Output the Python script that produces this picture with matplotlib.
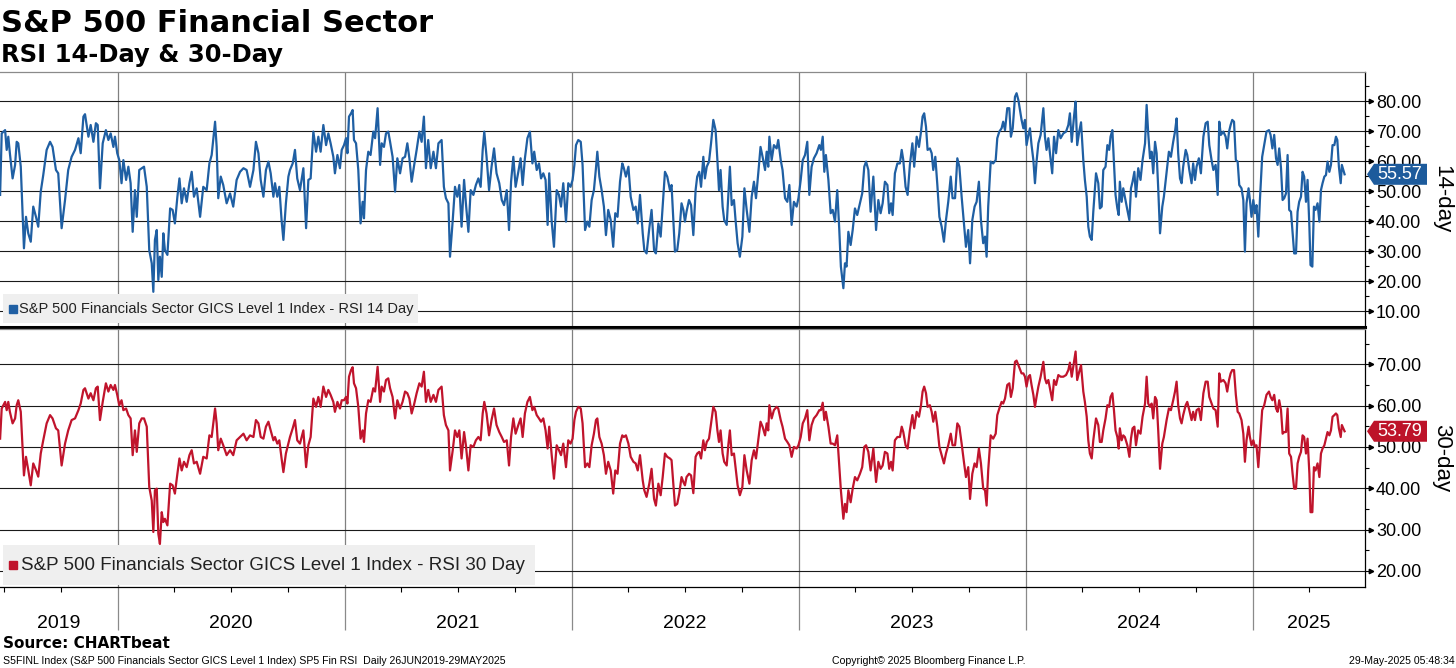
import numpy as np
import matplotlib
matplotlib.use("Agg")
import matplotlib.pyplot as plt
import matplotlib.transforms as mtransforms
from matplotlib.patches import Polygon, Rectangle
from matplotlib.ticker import FormatStrFormatter

# ---------------- data (dates as decimal years) ----------------
dates = [
    # Jun 2019 - Dec 2020
    2019.482, 2019.489, 2019.504, 2019.511, 2019.518, 2019.525, 2019.537, 2019.548, 2019.555, 2019.562,
    2019.573, 2019.587, 2019.596, 2019.606, 2019.617, 2019.628, 2019.640, 2019.650, 2019.661, 2019.672,
    2019.687, 2019.702, 2019.713, 2019.728, 2019.738, 2019.753, 2019.768, 2019.782, 2019.797, 2019.812,
    2019.827, 2019.837, 2019.849, 2019.856, 2019.871, 2019.881, 2019.893, 2019.904, 2019.912, 2019.922,
    2019.934, 2019.948, 2019.959, 2019.969, 2019.981, 2019.988, 2019.998, 2020.007, 2020.017, 2020.025,
    2020.037, 2020.047, 2020.057, 2020.066, 2020.076, 2020.084, 2020.095, 2020.106, 2020.116, 2020.128,
    2020.139, 2020.150, 2020.157, 2020.164, 2020.172, 2020.179, 2020.186, 2020.194, 2020.201, 2020.208,
    2020.219, 2020.231, 2020.242, 2020.252, 2020.263, 2020.272, 2020.282, 2020.292, 2020.304, 2020.316,
    2020.326, 2020.336, 2020.348, 2020.363, 2020.377, 2020.392, 2020.404, 2020.414, 2020.429, 2020.436,
    2020.443, 2020.454, 2020.465, 2020.480, 2020.495, 2020.509, 2020.524, 2020.539, 2020.554, 2020.568,
    2020.583, 2020.598, 2020.609, 2020.620, 2020.630, 2020.642, 2020.653, 2020.664, 2020.674, 2020.686,
    2020.693, 2020.703, 2020.712, 2020.722, 2020.730, 2020.741, 2020.752, 2020.759, 2020.771, 2020.781,
    2020.791, 2020.803, 2020.818, 2020.830, 2020.840, 2020.850, 2020.862, 2020.874, 2020.884, 2020.894,
    2020.906, 2020.918, 2020.928, 2020.938, 2020.950, 2020.957, 2020.968,
    # Dec 2020 - Jun 2022
    2020.979, 2020.987, 2020.997, 2021.006, 2021.012, 2021.019, 2021.028, 2021.035, 2021.041, 2021.050,
    2021.060, 2021.070, 2021.079, 2021.085, 2021.094, 2021.104, 2021.114, 2021.126, 2021.134, 2021.145,
    2021.156, 2021.163, 2021.173, 2021.182, 2021.192, 2021.200, 2021.211, 2021.222, 2021.232, 2021.244,
    2021.255, 2021.266, 2021.276, 2021.285, 2021.295, 2021.305, 2021.317, 2021.329, 2021.339, 2021.349,
    2021.358, 2021.368, 2021.379, 2021.391, 2021.402, 2021.413, 2021.427, 2021.437, 2021.446, 2021.457,
    2021.464, 2021.476, 2021.486, 2021.496, 2021.505, 2021.515, 2021.526, 2021.534, 2021.545, 2021.555,
    2021.567, 2021.578, 2021.589, 2021.599, 2021.608, 2021.615, 2021.625, 2021.636, 2021.647, 2021.658,
    2021.669, 2021.681, 2021.692, 2021.702, 2021.714, 2021.724, 2021.733, 2021.743, 2021.753, 2021.765,
    2021.775, 2021.784, 2021.794, 2021.805, 2021.816, 2021.827, 2021.835, 2021.846, 2021.856, 2021.865,
    2021.875, 2021.885, 2021.894, 2021.901, 2021.912, 2021.922, 2021.934, 2021.944, 2021.953, 2021.963,
    2021.975, 2021.985, 2021.995, 2022.004, 2022.012, 2022.019, 2022.029, 2022.040, 2022.048, 2022.059,
    2022.069, 2022.078, 2022.088, 2022.098, 2022.107, 2022.113, 2022.122, 2022.132, 2022.142, 2022.151,
    2022.161, 2022.172, 2022.183, 2022.192, 2022.202, 2022.213, 2022.223, 2022.230, 2022.239, 2022.250,
    2022.260, 2022.272, 2022.282, 2022.291, 2022.301, 2022.313, 2022.320, 2022.330, 2022.342, 2022.352,
    2022.363, 2022.371, 2022.382, 2022.392, 2022.401, 2022.411, 2022.421, 2022.433, 2022.440, 2022.448,
    2022.455, 2022.465, 2022.474,
    # Jun 2022 - Dec 2023
    2022.484, 2022.492, 2022.499, 2022.506, 2022.517, 2022.526, 2022.536, 2022.546, 2022.553, 2022.562,
    2022.570, 2022.580, 2022.587, 2022.595, 2022.605, 2022.614, 2022.624, 2022.634, 2022.642, 2022.649,
    2022.656, 2022.665, 2022.672, 2022.683, 2022.690, 2022.697, 2022.705, 2022.715, 2022.722, 2022.731,
    2022.741, 2022.752, 2022.761, 2022.771, 2022.783, 2022.793, 2022.803, 2022.812, 2022.822, 2022.832,
    2022.841, 2022.852, 2022.859, 2022.866, 2022.871, 2022.881, 2022.891, 2022.903, 2022.910, 2022.921,
    2022.929, 2022.940, 2022.950, 2022.959, 2022.969, 2022.979, 2022.991, 2022.999, 2023.009, 2023.018,
    2023.028, 2023.038, 2023.047, 2023.057, 2023.067, 2023.079, 2023.091, 2023.098, 2023.106, 2023.113,
    2023.120, 2023.131, 2023.141, 2023.150, 2023.160, 2023.170, 2023.179, 2023.186, 2023.197, 2023.204,
    2023.211, 2023.219, 2023.229, 2023.238, 2023.248, 2023.258, 2023.270, 2023.280, 2023.289, 2023.297,
    2023.307, 2023.317, 2023.329, 2023.341, 2023.351, 2023.361, 2023.370, 2023.380, 2023.391, 2023.399,
    2023.407, 2023.414, 2023.424, 2023.435, 2023.446, 2023.454, 2023.461, 2023.471, 2023.480, 2023.490,
    2023.501, 2023.509, 2023.520, 2023.530, 2023.539, 2023.546, 2023.553, 2023.561, 2023.568, 2023.578,
    2023.586, 2023.593, 2023.602, 2023.611, 2023.620, 2023.630, 2023.640, 2023.649, 2023.659, 2023.670,
    2023.678, 2023.689, 2023.699, 2023.708, 2023.718, 2023.728, 2023.737, 2023.747, 2023.755, 2023.765,
    2023.775, 2023.784, 2023.794, 2023.803, 2023.813, 2023.821, 2023.828, 2023.835, 2023.846, 2023.857,
    2023.868, 2023.875, 2023.884, 2023.894, 2023.901, 2023.909, 2023.919, 2023.928, 2023.935, 2023.943,
    2023.953, 2023.960, 2023.968,
    # Dec 2023 - May 2025
    2023.982, 2023.990, 2023.997, 2024.004, 2024.012, 2024.019, 2024.026, 2024.034, 2024.041, 2024.048,
    2024.056, 2024.066, 2024.078, 2024.085, 2024.092, 2024.100, 2024.107, 2024.117, 2024.125, 2024.134,
    2024.144, 2024.154, 2024.166, 2024.178, 2024.188, 2024.195, 2024.203, 2024.213, 2024.220, 2024.227,
    2024.236, 2024.244, 2024.254, 2024.261, 2024.269, 2024.276, 2024.283, 2024.291, 2024.298, 2024.310,
    2024.320, 2024.327, 2024.335, 2024.342, 2024.352, 2024.360, 2024.368, 2024.374, 2024.382, 2024.389,
    2024.396, 2024.404, 2024.410, 2024.415, 2024.423, 2024.430, 2024.437, 2024.448, 2024.457, 2024.464,
    2024.471, 2024.479, 2024.486, 2024.496, 2024.506, 2024.515, 2024.526, 2024.533, 2024.540, 2024.548,
    2024.555, 2024.562, 2024.570, 2024.577, 2024.584, 2024.592, 2024.602, 2024.609, 2024.621, 2024.631,
    2024.640, 2024.650, 2024.658, 2024.665, 2024.672, 2024.680, 2024.687, 2024.694, 2024.705, 2024.712,
    2024.721, 2024.731, 2024.738, 2024.746, 2024.753, 2024.763, 2024.772, 2024.783, 2024.793, 2024.802,
    2024.809, 2024.819, 2024.827, 2024.837, 2024.846, 2024.853, 2024.860, 2024.871, 2024.881, 2024.888,
    2024.896, 2024.903, 2024.910, 2024.918, 2024.926, 2024.934, 2024.941, 2024.951, 2024.959, 2024.966,
    2024.973, 2024.982, 2024.988, 2024.995, 2025.003, 2025.010, 2025.017, 2025.025, 2025.032, 2025.042,
    2025.051, 2025.061, 2025.072, 2025.079, 2025.087, 2025.095, 2025.103, 2025.110, 2025.117, 2025.125,
    2025.132, 2025.139, 2025.147, 2025.154, 2025.161, 2025.169, 2025.176, 2025.183, 2025.191, 2025.198,
    2025.205, 2025.213, 2025.220, 2025.227, 2025.235, 2025.242, 2025.250, 2025.255, 2025.263, 2025.270,
    2025.277, 2025.286, 2025.294, 2025.301, 2025.308, 2025.316, 2025.323, 2025.330, 2025.338, 2025.345,
    2025.352, 2025.360, 2025.367, 2025.373, 2025.380, 2025.388, 2025.393, 2025.405,
]

rsi14 = [
    48.7, 69.2, 70.3, 63.7, 68.1, 62.6, 54.2, 58.7, 66.4, 65.9,
    58.1, 30.9, 41.4, 35.9, 33.1, 44.8, 41.4, 38.1, 49.8, 55.3,
    63.7, 66.4, 64.7, 57.0, 55.9, 37.6, 47.0, 57.0, 61.4, 63.7,
    67.6, 62.6, 74.8, 75.6, 68.1, 72.0, 66.4, 72.6, 72.0, 50.9,
    65.9, 70.3, 67.0, 69.2, 64.7, 68.1, 62.6, 60.3, 52.6, 60.3,
    53.7, 58.1, 52.6, 36.4, 50.3, 41.4, 57.0, 57.6, 58.1, 51.4,
    30.3, 25.9, 16.4, 33.7, 37.0, 20.3, 28.1, 21.4, 35.9, 30.3,
    28.7, 44.2, 43.7, 39.2, 48.1, 54.2, 45.9, 50.9, 46.4, 52.6,
    56.4, 48.1, 50.9, 41.4, 51.4, 50.3, 59.2, 62.0, 73.1, 64.7,
    47.6, 54.8, 52.0, 45.9, 49.2, 44.8, 53.7, 56.4, 57.6, 57.0,
    51.4, 57.0, 66.4, 62.6, 53.7, 48.1, 57.0, 59.8, 55.9, 48.1,
    52.6, 48.1, 51.4, 40.3, 33.7, 45.9, 54.8, 57.0, 59.2, 63.7,
    54.2, 50.3, 57.6, 37.6, 53.7, 54.2, 69.8, 63.1, 68.1, 63.1,
    72.0, 65.3, 69.2, 65.9, 61.4, 55.9, 62.0,
    57.6, 63.7, 65.3, 67.6, 62.6, 74.8, 75.9, 77.0, 67.0, 65.9,
    57.0, 39.2, 46.4, 40.9, 57.0, 63.1, 62.0, 69.8, 67.6, 77.6,
    58.7, 65.9, 64.7, 69.2, 69.8, 66.4, 61.4, 49.8, 60.9, 55.9,
    60.9, 61.4, 65.9, 60.9, 53.1, 58.1, 63.7, 69.8, 66.4, 74.8,
    57.6, 67.0, 57.6, 63.1, 57.6, 65.9, 67.0, 51.4, 47.6, 45.9,
    28.1, 40.3, 51.4, 48.1, 52.0, 38.1, 53.7, 45.9, 36.4, 50.3,
    48.7, 52.0, 54.2, 51.4, 63.7, 69.8, 61.4, 50.3, 58.1, 64.2,
    55.9, 52.6, 47.0, 45.3, 50.3, 37.0, 53.1, 61.4, 51.4, 56.4,
    60.9, 52.0, 60.9, 67.6, 69.8, 59.2, 63.1, 57.0, 59.2, 54.2,
    55.9, 53.7, 38.7, 55.9, 39.8, 31.4, 50.3, 48.7, 44.8, 52.6,
    39.8, 52.6, 51.4, 53.7, 58.7, 65.3, 67.0, 66.4, 58.7, 37.0,
    39.8, 38.1, 47.0, 50.3, 57.6, 63.1, 54.8, 50.3, 44.8, 35.3,
    43.7, 40.3, 31.4, 42.6, 41.4, 53.1, 59.2, 57.6, 54.8, 58.1,
    48.1, 43.7, 44.8, 39.2, 48.7, 35.9, 30.3, 29.2, 37.6, 43.7,
    30.3, 29.2, 39.2, 34.8, 44.8, 56.4, 54.8, 50.3, 52.0, 39.8,
    29.8, 30.3, 35.9,
    45.9, 43.7, 39.8, 43.1, 47.0, 45.3, 35.3, 50.3, 54.8, 56.4,
    51.4, 61.4, 54.2, 58.1, 59.8, 65.9, 73.7, 70.3, 60.3, 50.3,
    57.0, 44.8, 40.3, 38.7, 48.1, 58.1, 45.3, 47.0, 40.3, 32.6,
    28.1, 34.8, 50.9, 43.7, 36.4, 48.1, 53.1, 47.6, 55.9, 64.7,
    61.4, 57.0, 63.1, 58.1, 68.1, 60.3, 65.3, 64.2, 67.0, 60.3,
    57.0, 47.6, 46.4, 52.0, 38.7, 46.4, 44.8, 47.6, 53.7, 60.3,
    62.0, 66.4, 48.7, 58.1, 60.9, 62.6, 65.3, 63.7, 68.1, 56.4,
    62.0, 53.7, 42.6, 43.7, 39.8, 50.3, 37.0, 24.8, 17.6, 25.9,
    24.8, 36.4, 32.0, 37.0, 44.2, 42.0, 45.9, 49.2, 58.1, 59.8,
    57.0, 43.1, 54.8, 37.0, 47.0, 42.6, 45.9, 53.1, 52.0, 42.6,
    45.9, 42.0, 55.9, 59.2, 59.2, 63.7, 60.3, 51.4, 48.7, 58.7,
    65.9, 58.1, 68.1, 64.7, 69.8, 74.8, 75.9, 71.4, 63.7, 64.2,
    62.6, 57.0, 61.4, 52.0, 41.4, 38.1, 33.1, 40.3, 46.4, 54.8,
    47.6, 47.6, 60.9, 58.1, 48.1, 39.2, 31.4, 37.0, 25.9, 40.3,
    44.8, 46.4, 53.1, 40.3, 32.6, 34.8, 28.1, 44.8, 59.8, 59.2,
    60.3, 67.6, 69.8, 70.9, 73.1, 70.3, 77.6, 77.6, 68.1, 70.9,
    81.4, 82.6, 80.3,
    73.7, 70.9, 73.7, 65.3, 68.7, 70.9, 65.3, 60.3, 52.6, 59.8,
    65.9, 68.7, 77.6, 68.1, 63.7, 67.6, 62.6, 55.9, 68.1, 62.6,
    70.3, 67.6, 69.2, 69.8, 72.0, 75.9, 66.4, 74.8, 79.8, 65.3,
    69.8, 72.9, 60.3, 53.7, 48.1, 38.1, 34.8, 33.7, 43.1, 55.9,
    52.6, 44.2, 44.8, 57.0, 58.1, 65.3, 63.7, 68.1, 70.3, 59.2,
    48.7, 44.2, 42.0, 53.1, 46.4, 50.9, 48.1, 43.7, 40.3, 50.9,
    53.1, 56.4, 48.1, 57.6, 53.7, 60.3, 65.9, 78.7, 69.2, 60.9,
    63.1, 55.9, 66.4, 62.6, 50.9, 35.9, 44.8, 48.1, 56.4, 63.1,
    61.4, 66.4, 69.8, 74.2, 62.6, 54.2, 52.6, 58.1, 63.7, 62.0,
    57.0, 52.6, 59.2, 53.7, 58.1, 60.9, 55.9, 68.1, 72.6, 73.1,
    65.3, 60.3, 57.0, 58.7, 48.7, 73.1, 68.7, 69.8, 68.1, 64.2,
    69.8, 72.0, 73.7, 73.1, 60.3, 59.8, 52.0, 50.9, 47.0, 29.8,
    45.9, 50.9, 47.0, 41.4, 47.0, 42.6, 45.3, 34.8, 47.0, 61.4,
    65.3, 69.8, 70.3, 68.7, 64.2, 68.7, 60.9, 58.7, 64.2, 57.6,
    47.0, 47.6, 49.2, 62.0, 43.7, 43.1, 35.9, 29.2, 29.2, 43.1,
    46.4, 48.1, 56.4, 54.8, 46.4, 53.7, 38.1, 25.3, 24.8, 44.8,
    43.7, 45.9, 39.8, 50.3, 52.6, 54.8, 55.3, 59.8, 56.4, 58.7,
    65.3, 65.3, 68.1, 67.0, 58.1, 52.6, 58.7, 55.57,
]

rsi30 = [
    52.0, 59.3, 60.9, 58.9, 60.9, 58.5, 55.7, 56.9, 60.1, 61.3,
    58.5, 43.1, 47.6, 44.4, 40.7, 46.0, 44.4, 42.8, 48.4, 51.6,
    55.7, 57.7, 56.9, 54.5, 54.0, 45.5, 50.8, 54.0, 56.5, 56.9,
    58.9, 60.5, 63.8, 64.2, 61.7, 63.0, 61.3, 64.2, 64.6, 56.5,
    60.9, 65.4, 63.4, 65.0, 63.8, 65.0, 62.6, 60.1, 61.3, 58.9,
    59.3, 57.7, 56.9, 48.0, 54.0, 48.8, 55.7, 56.9, 56.9, 54.9,
    40.3, 37.0, 29.4, 39.5, 39.9, 29.0, 26.5, 34.2, 31.8, 32.6,
    31.0, 41.1, 40.7, 38.7, 43.5, 47.2, 44.3, 46.4, 45.1, 48.0,
    49.2, 46.0, 46.4, 43.5, 47.6, 47.2, 52.8, 52.4, 59.3, 55.7,
    49.2, 52.0, 50.4, 48.0, 49.2, 48.0, 51.6, 52.4, 53.2, 51.6,
    52.8, 52.4, 56.5, 55.7, 52.4, 52.0, 54.9, 56.1, 54.0, 51.6,
    52.4, 50.8, 51.6, 47.2, 43.9, 48.4, 50.8, 52.4, 54.5, 56.5,
    51.6, 50.8, 54.0, 45.1, 50.4, 52.4, 61.7, 59.7, 62.1, 59.7,
    64.6, 62.1, 63.8, 62.6, 60.9, 58.5, 60.9,
    59.3, 61.3, 61.3, 62.1, 60.5, 67.0, 68.6, 69.3, 65.4, 64.2,
    59.7, 52.0, 54.0, 51.2, 58.1, 61.3, 60.9, 64.2, 63.4, 69.4,
    60.9, 64.6, 63.4, 66.2, 66.6, 64.2, 62.1, 56.9, 61.3, 59.3,
    60.9, 63.4, 63.0, 61.7, 58.1, 60.1, 63.0, 65.4, 64.6, 68.2,
    60.9, 63.8, 60.9, 62.6, 60.9, 63.8, 64.6, 57.7, 55.3, 54.0,
    44.3, 49.2, 54.0, 52.4, 54.0, 47.2, 53.6, 50.4, 44.3, 50.4,
    50.0, 51.6, 52.4, 51.6, 58.1, 60.9, 58.1, 52.8, 56.5, 59.3,
    55.3, 53.6, 52.4, 51.2, 51.6, 45.5, 52.4, 56.9, 53.2, 55.3,
    56.9, 52.4, 58.1, 60.9, 62.1, 58.9, 59.7, 57.7, 56.9, 56.1,
    56.9, 54.0, 49.6, 54.9, 48.0, 42.3, 50.4, 49.2, 48.0, 50.8,
    45.1, 51.6, 50.8, 52.0, 56.5, 58.5, 59.7, 59.3, 55.7, 45.1,
    46.0, 45.1, 50.4, 53.2, 56.5, 56.9, 52.4, 50.8, 48.0, 43.5,
    46.4, 44.3, 38.7, 44.3, 43.5, 50.8, 52.8, 52.4, 52.8, 50.8,
    47.6, 46.4, 46.0, 44.3, 48.0, 41.9, 39.5, 37.9, 41.1, 44.7,
    37.4, 35.8, 41.1, 38.3, 42.7, 48.4, 47.6, 47.2, 46.8, 41.1,
    35.8, 36.2, 38.7,
    42.7, 41.5, 40.7, 42.7, 43.5, 43.1, 38.8, 47.6, 48.4, 48.8,
    47.2, 51.6, 49.2, 51.2, 52.0, 55.7, 59.7, 58.5, 54.0, 51.2,
    54.0, 48.4, 46.4, 45.5, 50.4, 54.0, 48.0, 48.4, 45.1, 40.7,
    38.3, 40.3, 48.0, 44.3, 41.1, 46.8, 49.2, 47.2, 51.6, 56.1,
    54.9, 52.8, 55.7, 54.0, 60.1, 56.9, 58.9, 59.7, 59.3, 56.5,
    54.9, 52.0, 51.2, 50.4, 47.6, 50.0, 49.6, 50.4, 52.4, 55.7,
    56.9, 58.9, 51.6, 55.3, 56.9, 57.7, 58.9, 58.9, 60.7, 56.5,
    58.5, 54.9, 50.8, 50.8, 50.4, 52.8, 45.1, 39.5, 32.6, 36.2,
    34.2, 39.5, 36.6, 39.9, 42.7, 41.9, 43.5, 45.1, 50.0, 50.4,
    48.8, 44.3, 49.6, 41.5, 46.4, 44.7, 45.5, 48.8, 48.4, 44.7,
    46.4, 44.3, 51.6, 52.4, 52.4, 54.9, 53.6, 50.4, 49.6, 54.0,
    57.7, 54.5, 58.5, 57.3, 60.1, 63.4, 64.6, 63.0, 59.7, 60.1,
    58.5, 56.1, 58.5, 54.9, 50.0, 48.0, 46.0, 48.4, 50.4, 53.2,
    50.4, 50.4, 55.7, 54.9, 50.8, 46.4, 42.7, 45.1, 37.4, 43.5,
    46.0, 45.1, 49.6, 46.0, 39.9, 39.5, 35.8, 44.3, 52.8, 52.0,
    53.2, 57.7, 59.3, 60.9, 60.5, 61.7, 65.0, 65.4, 62.1, 64.2,
    70.6, 70.9, 69.8,
    67.8, 67.8, 67.0, 64.6, 67.0, 67.4, 65.0, 62.6, 59.7, 62.1,
    64.6, 67.0, 70.6, 66.6, 65.4, 66.2, 64.2, 61.3, 66.2, 65.0,
    67.4, 67.0, 67.0, 67.4, 68.6, 70.4, 67.0, 70.6, 73.1, 66.2,
    68.2, 69.8, 63.4, 60.9, 57.3, 51.6, 48.4, 47.2, 51.6, 56.9,
    55.3, 51.2, 51.2, 54.0, 56.9, 60.1, 59.7, 62.1, 63.0, 58.9,
    54.0, 52.4, 49.6, 54.5, 51.6, 52.8, 52.4, 50.4, 47.6, 52.0,
    54.5, 54.9, 50.4, 54.0, 53.2, 57.3, 60.5, 67.0, 60.5, 59.7,
    60.5, 56.9, 62.1, 61.3, 54.0, 44.7, 50.8, 52.4, 56.5, 59.3,
    58.9, 61.3, 63.4, 65.8, 60.1, 56.9, 55.7, 57.7, 60.1, 60.9,
    58.9, 56.5, 58.5, 56.5, 58.9, 59.3, 56.5, 63.0, 65.8, 65.8,
    62.1, 60.5, 59.3, 58.9, 54.9, 67.8, 65.8, 66.2, 65.4, 63.4,
    66.2, 67.8, 68.6, 68.6, 62.6, 58.5, 58.1, 56.5, 53.2, 46.4,
    51.6, 54.9, 52.4, 50.4, 51.6, 50.0, 50.4, 45.1, 50.8, 58.9,
    60.1, 62.6, 63.4, 62.1, 61.3, 62.6, 59.3, 58.5, 61.3, 58.9,
    53.2, 53.6, 53.6, 59.3, 48.4, 47.6, 43.5, 39.9, 39.9, 46.0,
    47.6, 48.8, 52.8, 52.4, 48.4, 52.0, 43.5, 34.2, 34.2, 45.1,
    44.3, 46.0, 42.7, 48.4, 49.6, 50.4, 52.0, 53.6, 52.8, 54.0,
    57.3, 57.7, 58.1, 57.7, 54.5, 52.4, 55.3, 53.79,
]

year_labels = ["2019", "2020", "2021", "2022", "2023", "2024", "2025"]
year_starts = [2019, 2020, 2021, 2022, 2023, 2024, 2025]
x_start, x_end = 2019.4815, 2025.495

title = "S&P 500 Financial Sector"
subtitle = "RSI 14-Day & 30-Day"
legend14 = "S&P 500 Financials Sector GICS Level 1 Index - RSI 14 Day"
legend30 = "S&P 500 Financials Sector GICS Level 1 Index - RSI 30 Day"
source = "Source: CHARTbeat"
footer_left = "S5FINL Index (S&P 500 Financials Sector GICS Level 1 Index) SP5 Fin RSI  Daily 26JUN2019-29MAY2025"
footer_mid = "Copyright\u00a9 2025 Bloomberg Finance L.P."
footer_right = "29-May-2025 05:48:34"

BLUE = "#1f5fa3"
RED = "#c0142c"
TAG_BLUE = "#1d5b9c"
TAG_RED = "#bd1329"
SANS = ["Liberation Sans", "DejaVu Sans"]

# ---------------- figure ----------------
W, H = 1456, 668
fig = plt.figure(figsize=(W / 100, H / 100), dpi=100)
fig.patch.set_facecolor("white")


def fx(px):
    return px / W


def fy(py):
    return 1 - py / H


ax1 = fig.add_axes([0, fy(327), fx(1365), (327 - 72) / H])
ax2 = fig.add_axes([0, fy(587), fx(1365), (587 - 329) / H])

panels = [
    (ax1, rsi14, BLUE, TAG_BLUE, (4.67, 89.67), np.arange(10, 81, 10), np.arange(15, 90, 10),
     legend14, (418, 294, 323), 10.5, "14-day", 72, 327),
    (ax2, rsi30, RED, TAG_RED, (16.08, 78.55), np.arange(20, 71, 10), np.arange(25, 80, 10),
     legend30, (535, 545, 585), 13.5, "30-day", 329, 587),
]

year_ticks = [y for y in year_starts if x_start < y < x_end]
quarter_ticks = [y + q / 4 for y in year_starts for q in (1, 2, 3) if x_start < y + q / 4 < x_end]

for (ax, vals, col, tagcol, ylim, majors, minors, legtxt, legbox, legfs,
     side_label, top_px, bot_px) in panels:
    ax.plot(dates, vals, color=col, lw=1.6, zorder=3, solid_joinstyle="round")
    ax.set_xlim(x_start, x_end)
    ax.set_ylim(*ylim)
    ax.set_facecolor("white")

    # y axis on right
    ax.yaxis.tick_right()
    ax.set_yticks(majors)
    ax.set_yticks(minors, minor=True)
    ax.yaxis.set_major_formatter(FormatStrFormatter("%.2f"))
    ax.tick_params(axis="y", which="major", direction="out", length=4.5, width=0.8,
                   pad=3.5, labelsize=13, left=False, right=True,
                   labelleft=False, labelright=True, colors="black")
    ax.tick_params(axis="y", which="minor", direction="out", length=3, width=0.8,
                   left=False, right=True)
    for lab in ax.get_yticklabels():
        lab.set_fontfamily(SANS)

    # small arrow heads on major ticks
    arrow_tr = ax.get_yaxis_transform() + mtransforms.ScaledTranslation(0.055, 0, fig.dpi_scale_trans)
    ax.plot(np.ones(len(majors)), majors, ls="none", marker=">", ms=3.2, color="black",
            transform=arrow_tr, clip_on=False, zorder=4)

    # x axis / grids
    ax.set_xticks(year_ticks)
    ax.set_xticks(quarter_ticks, minor=True)
    ax.yaxis.grid(True, which="major", color="#1a1a1a", lw=0.8)
    ax.xaxis.grid(True, which="major", color="#808080", lw=0.9)
    ax.set_axisbelow(True)

    for s in ("left",):
        ax.spines[s].set_visible(False)
    ax.spines["right"].set_color("black")
    ax.spines["right"].set_linewidth(0.9)
    ax.spines["top"].set_color("#8a8a8a")
    ax.spines["top"].set_linewidth(0.9)

    # legend box
    axw = 1365.0
    axh = float(bot_px - top_px)
    right_px, ltop, lbot = legbox
    ax.add_patch(Rectangle((3 / axw, (bot_px - lbot) / axh), (right_px - 3) / axw, (lbot - ltop) / axh,
                           transform=ax.transAxes, facecolor="#efefef", edgecolor="none",
                           zorder=2.6))
    ymid = (bot_px - (ltop + lbot) / 2) / axh
    ax.plot([13 / axw], [ymid], marker="s", ms=5.2 if legfs < 12 else 6.0, color=col,
            transform=ax.transAxes, clip_on=False, zorder=4, ls="none")
    ax.text((19 if legfs < 12 else 21) / axw, ymid, legtxt, transform=ax.transAxes, ha="left",
            va="center", fontsize=legfs, color="#222222", fontfamily=SANS, zorder=4)

    # value tag on right axis
    last = vals[-1]
    tag_tr = mtransforms.Affine2D() + mtransforms.ScaledTranslation(1.0, last, ax.get_yaxis_transform())
    ax.add_patch(Polygon([(2, 0), (9, 10.5), (62, 10.5), (62, -10.5), (9, -10.5)], closed=True,
                         transform=tag_tr, facecolor=tagcol, edgecolor="none", clip_on=False,
                         zorder=8))
    ax.annotate(f"{last:.2f}", xy=(1.0, last), xycoords=ax.get_yaxis_transform(),
                xytext=(35, 0), textcoords="offset pixels", ha="center", va="center",
                color="white", fontsize=13, fontfamily=SANS, zorder=9, annotation_clip=False)

    # side label
    fig.text(fx(1442), fy((top_px + bot_px) / 2), side_label, rotation=270, ha="center",
             va="center", fontsize=16, fontfamily=SANS)

# top panel: no x ticks
ax1.tick_params(axis="x", which="both", length=0, labelbottom=False)
ax1.spines["bottom"].set_color("black")
ax1.spines["bottom"].set_linewidth(2.2)

# bottom panel x ticks
ax2.tick_params(axis="x", which="major", direction="out", length=31, width=0.9,
                color="#8a8a8a", labelbottom=False)
ax2.tick_params(axis="x", which="minor", direction="out", length=3.6, width=0.8,
                color="black", labelbottom=False)
ax2.spines["bottom"].set_color("black")
ax2.spines["bottom"].set_linewidth(0.9)

# year labels centred in each year span
ytr = mtransforms.blended_transform_factory(ax2.transData, fig.transFigure)
for lab, y0 in zip(year_labels, year_starts):
    a = max(y0, x_start)
    b = min(y0 + 1, x_end)
    ax2.text((a + b) / 2, fy(628), lab, transform=ytr, ha="center", va="baseline",
             fontsize=14, fontfamily=SANS, color="black", clip_on=False)

# titles and footers
fig.text(fx(1), fy(32), title, fontsize=22, fontweight="bold", va="baseline", ha="left",
         fontfamily="DejaVu Sans")
fig.text(fx(1), fy(62), subtitle, fontsize=17.5, fontweight="bold", va="baseline", ha="left",
         fontfamily="DejaVu Sans")
fig.text(fx(3), fy(648), source, fontsize=11, fontweight="bold", va="baseline", ha="left",
         fontfamily="DejaVu Sans")
fig.text(fx(3), fy(664), footer_left, fontsize=7.6, va="baseline", ha="left", fontfamily=SANS)
fig.text(fx(832), fy(664), footer_mid, fontsize=7.6, va="baseline", ha="left", fontfamily=SANS)
fig.text(fx(1455), fy(664), footer_right, fontsize=7.6, va="baseline", ha="right", fontfamily=SANS)

fig.savefig("out.png", dpi=100, facecolor="white")
